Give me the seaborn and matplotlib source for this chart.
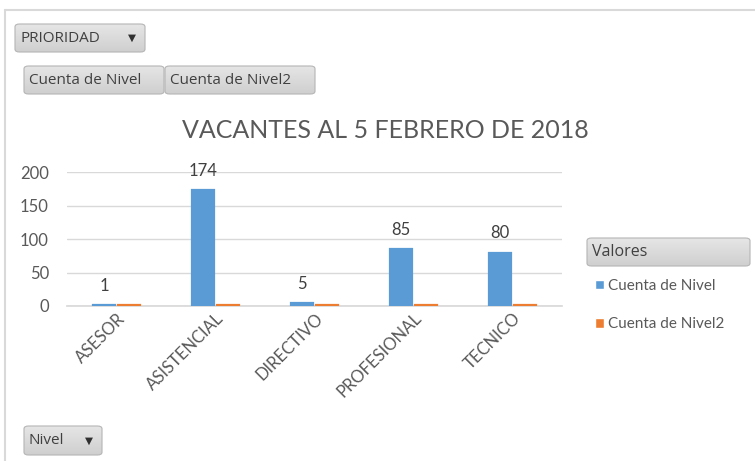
import matplotlib
matplotlib.use("Agg")
import matplotlib.pyplot as plt
from matplotlib.patches import FancyBboxPatch
from matplotlib.lines import Line2D
import seaborn as sns
import pandas as pd
import numpy as np

categories = ["ASESOR", "ASISTENCIAL", "DIRECTIVO", "PROFESIONAL", "TECNICO"]
cuenta_nivel = [1, 174, 5, 85, 80]
cuenta_nivel2 = [1, 1, 1, 1, 1]
series_names = ["Cuenta de Nivel", "Cuenta de Nivel2"]
y_ticks = [0, 50, 100, 150, 200]
title = "VACANTES AL 5 FEBRERO DE 2018"

df = pd.DataFrame({
    "Nivel": categories * 2,
    "Serie": [series_names[0]] * len(categories) + [series_names[1]] * len(categories),
    "Valor": cuenta_nivel + cuenta_nivel2,
})

sns.set_theme(style="white")
plt.rcParams["font.family"] = ["Lato", "DejaVu Sans"]
TXT = "#595959"

fig = plt.figure(figsize=(7.55, 4.61), dpi=100)
ax = fig.add_axes([67/755, 1-306/461, 495/755, (306-172.3)/461])

palette = {series_names[0]: "#5b9bd5", series_names[1]: "#ed7d31"}
sns.barplot(data=df, x="Nivel", y="Valor", hue="Serie", palette=palette,
            width=0.5, gap=0.12, ax=ax, legend=True, saturation=1)
for cont in ax.containers:
    for bar in cont:
        bar.set_edgecolor(bar.get_facecolor())
        bar.set_linewidth(1.6)
        bar.set_zorder(3)

handles, labels = ax.get_legend_handles_labels()
ax.get_legend().remove()

ax.bar_label(ax.containers[0], labels=[str(v) for v in cuenta_nivel],
             padding=8, fontsize=12, color="#404040")

ax.set_ylim(0, 200)
ax.set_yticks(y_ticks)
ax.set_xlim(-0.5, len(categories) - 0.5)
ax.grid(axis="y", color="#d9d9d9", linewidth=1)
ax.set_axisbelow(True)
for s in ["top", "right", "left"]:
    ax.spines[s].set_visible(False)
ax.spines["bottom"].set_color("#d9d9d9")
ax.spines["bottom"].set_zorder(1)
ax.set_xlabel("")
ax.set_ylabel("")
ax.tick_params(axis="y", length=0, labelsize=12, labelcolor=TXT, pad=13)
ax.tick_params(axis="x", length=0, labelsize=12, labelcolor=TXT, pad=3)
plt.setp(ax.get_xticklabels(), rotation=45, ha="right", rotation_mode="anchor")

fig.text(385/755, 1-130/461, title, ha="center", va="center", fontsize=18, color=TXT)

# outer frame lines
fig.add_artist(Line2D([5/755, 1], [1-10/461, 1-10/461], color="#d9d9d9", lw=1.5))
fig.add_artist(Line2D([5/755, 5/755], [0, 1-10/461], color="#d9d9d9", lw=1.5))

def button(x0, y0, x1, y1, text, arrow=False, fs=11.5):
    W, H = 755, 461
    grad = np.linspace(0, 1, 64).reshape(-1, 1)
    p = FancyBboxPatch((x0/W, 1-y1/H), (x1-x0)/W, (y1-y0)/H,
                       boxstyle="round,pad=0,rounding_size=0.006",
                       transform=fig.transFigure, facecolor="none",
                       edgecolor="#b5b5b5", lw=0.8, zorder=3)
    fig.add_artist(p)
    gax = fig.add_axes([x0/W, 1-y1/H, (x1-x0)/W, (y1-y0)/H], zorder=2)
    gax.imshow(grad, aspect="auto", cmap=matplotlib.colors.LinearSegmentedColormap.from_list(
        "g", ["#e6e6e6", "#cfcfcf"]), extent=[0, 1, 0, 1])
    gax.set_axis_off()
    gax.images[0].set_clip_path(p)
    fig.text((x0+5)/W, 1-((y0+y1)/2)/H, text, ha="left", va="center",
             fontsize=fs, color="#404040", family=["Open Sans", "DejaVu Sans"], zorder=4)
    if arrow:
        fig.text((x1-13)/W, 1-((y0+y1)/2)/H, "▼", ha="center", va="center",
                 fontsize=7.5, color="#303030", family=["DejaVu Sans"], zorder=4)

button(15, 24, 145, 52, "PRIORIDAD", arrow=True, fs=11)
button(24, 66, 164, 94, "Cuenta de Nivel", fs=11)
button(165, 66, 315, 94, "Cuenta de Nivel2", fs=11)
button(24, 426, 102, 455, "Nivel", arrow=True, fs=11)
button(587, 238, 750, 266, "Valores", fs=11.5)

fig.legend(handles, labels, loc="upper left", bbox_to_anchor=(581/755, 1-265/461),
           frameon=False, fontsize=11, labelcolor=TXT, handlelength=0.6,
           handleheight=0.6, handletextpad=0.3, labelspacing=1.6)

fig.savefig("out.png", dpi=100)
